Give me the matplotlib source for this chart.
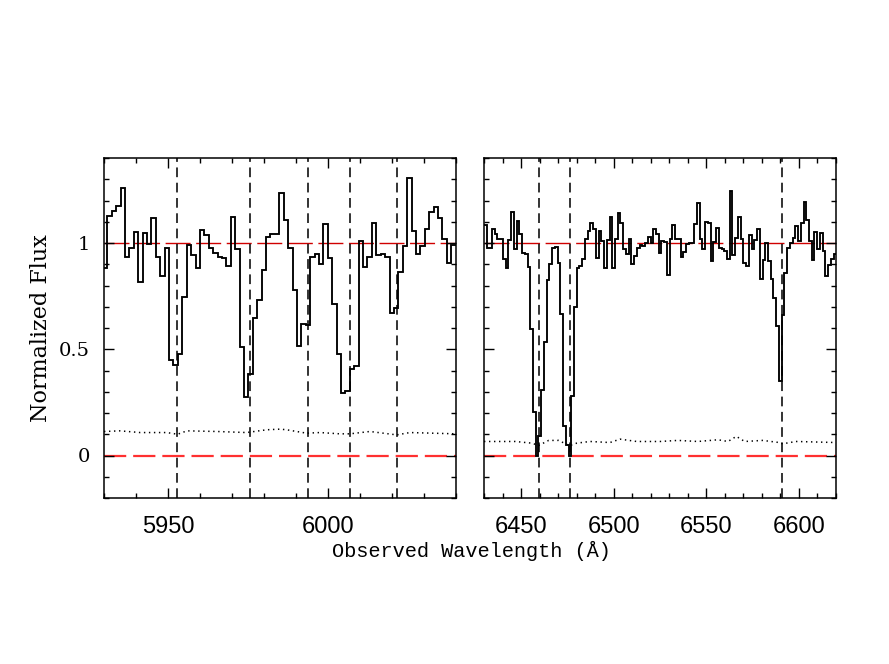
import matplotlib
matplotlib.use("Agg")
import matplotlib.pyplot as plt
from matplotlib import font_manager
from matplotlib.ticker import MultipleLocator
import numpy as np

plt.rcParams["lines.scale_dashes"] = False

# binned spectrum, left window (uniform wavelength bins)
wave_left_start = 5929.66
dwave_left = 1.378
flux_left = [
    0.884,
    1.127, 1.151, 1.175, 1.261, 0.934, 0.978, 1.053, 0.818, 1.049, 0.997,
    1.116, 0.934, 0.843, 0.978, 0.448, 0.428, 0.478, 0.745, 0.991, 0.943,
    0.884, 1.063, 1.036, 0.978, 0.954, 0.936, 0.931, 0.892, 1.124, 0.970,
    0.509, 0.277, 0.384, 0.648, 0.734, 0.874, 1.030, 1.041, 1.041,
    1.233, 1.108, 0.978, 0.781, 0.514, 0.619, 0.613, 0.936, 0.950, 0.903,
    1.088, 0.928, 0.712, 0.480, 0.294, 0.302, 0.409, 0.420, 1.009, 0.887,
    0.934, 1.094, 0.942, 0.947, 0.932, 0.671, 0.692, 0.865, 0.986, 1.305,
    1.057, 0.948, 0.986, 1.064, 1.148, 1.170, 1.119, 1.017, 0.907,
    0.990,
]

# binned spectrum, right window
wave_right_start = 6429.9
dwave_right = 1.475
flux_right = [
    1.083, 0.975, 0.975, 1.064, 1.044, 1.017, 1.017, 0.923, 0.882, 1.013,
    1.146, 0.970, 1.104, 1.041, 0.954, 0.946, 0.887, 0.593, 0.203, 0.000,
    0.090, 0.310, 0.533, 0.828, 0.899, 0.978, 0.983, 0.907, 0.664, 0.137,
    0.050, 0.000, 0.278, 0.698, 0.884, 0.892, 0.923, 1.020, 1.057, 1.096,
    1.064, 0.928, 1.057, 1.009, 0.884, 1.014, 1.120, 0.884, 1.017, 1.143,
    1.096, 0.970, 0.947, 1.017, 0.902, 0.939, 0.978, 0.989, 0.986, 1.001,
    1.028, 1.001, 1.068, 1.041, 0.954,
    1.010, 1.005, 0.850, 1.020, 1.083, 1.020, 1.017, 0.936, 0.958, 0.994,
    0.998, 1.000, 1.088, 1.186, 1.017, 0.973, 1.099, 1.096, 0.915, 1.005,
    1.072, 0.975, 0.970, 0.962, 0.926, 1.245, 0.942, 1.025, 1.120, 1.020,
    0.904,
    0.892, 1.039, 0.970, 1.014, 1.064, 0.832, 0.920, 0.998, 0.915, 0.829,
    0.742, 0.608, 0.349, 0.660, 0.860, 0.976, 0.998, 1.025, 1.080, 1.010,
    1.096, 1.193, 1.108, 1.010, 0.920, 1.052, 0.970, 1.049, 0.962, 0.847,
    0.896, 0.926, 0.946,
]

# error spectrum (dotted)
err_wave_left = [5930, 5935, 5941.3, 5949.6, 5953, 5955.9, 5965.3, 5974.6,
                 5980.8, 5985, 5987.1, 5993.3, 5997.5, 6003.7, 6006.9,
                 6013.1, 6021.5, 6025.6, 6039.9]
err_left = [0.113, 0.116, 0.108, 0.108, 0.100, 0.116, 0.113, 0.108, 0.121,
            0.124, 0.121, 0.105, 0.108, 0.102, 0.102, 0.113, 0.097, 0.108,
            0.102]
err_wave_right = [6430, 6446.9, 6455.9, 6459.5, 6464.9, 6470.3, 6476.1,
                  6480.0, 6487.2, 6498, 6503.4, 6512.4, 6525, 6534.7, 6545.5,
                  6556.3, 6561.7, 6566.2, 6570.7, 6580.4, 6589.4, 6591.2,
                  6598.4, 6620]
err_right = [0.066, 0.066, 0.058, 0.047, 0.071, 0.071, 0.046, 0.058, 0.066,
             0.061, 0.077, 0.066, 0.066, 0.071, 0.066, 0.074, 0.066, 0.090,
             0.066, 0.071, 0.061, 0.055, 0.066, 0.061]

# absorption line positions
lines_left = [5952.9, 5975.6, 5993.7, 6006.9, 6021.5]
lines_right = [6459.8, 6476.4, 6591.0]

xlim_left = (5930, 6040)
xlim_right = (6430, 6620)

names = {f.name for f in font_manager.fontManager.ttflist}
tick_font = "Liberation Sans Narrow" if "Liberation Sans Narrow" in names else "Liberation Sans"

fig = plt.figure(figsize=(8.89, 6.64), dpi=100)
ax1 = fig.add_axes([104 / 889, 166 / 664, 352 / 889, 340 / 664])
ax2 = fig.add_axes([484 / 889, 166 / 664, 352 / 889, 340 / 664])

panels = [
    (ax1, wave_left_start, dwave_left, flux_left, err_wave_left, err_left, lines_left, xlim_left),
    (ax2, wave_right_start, dwave_right, flux_right, err_wave_right, err_right, lines_right, xlim_right),
]

for ax, w0, dw, flux, ew, err, lines, xlim in panels:
    edges = w0 + dw * np.arange(len(flux) + 1)
    ax.axhline(0, color="#ff3030", lw=1.6, linestyle=(0, (16, 5)), zorder=1)
    ax.axhline(1, color="#d00000", lw=1.0, linestyle=(0, (18, 4)), zorder=1)
    for w in lines:
        ax.axvline(w, color="#111111", lw=1.2, linestyle=(0, (7, 4)), zorder=2)
    ax.stairs(flux, edges, baseline=None, color="black", lw=1.35, zorder=3)
    ax.plot(ew, err, color="black", lw=1.1, linestyle=(0, (1, 2.6)), zorder=3)

    ax.set_xlim(*xlim)
    ax.set_ylim(-0.2, 1.4)
    ax.xaxis.set_major_locator(MultipleLocator(50))
    ax.xaxis.set_minor_locator(MultipleLocator(10))
    ax.yaxis.set_major_locator(MultipleLocator(0.5))
    ax.yaxis.set_minor_locator(MultipleLocator(0.1))
    ax.tick_params(which="both", direction="in", top=True, right=True, width=1.0)
    ax.tick_params(which="major", length=7)
    ax.tick_params(which="minor", length=3.3)
    ax.tick_params(axis="x", pad=13, labelsize=17)
    for sp in ax.spines.values():
        sp.set_linewidth(1.1)
    for lab in ax.get_xticklabels():
        lab.set_family(tick_font)

ax1.set_yticks([0, 0.5, 1])
ax1.set_yticklabels(["0", "0.5", "1"], family="DejaVu Serif", fontsize=14)
ax1.tick_params(axis="y", pad=10)
ax2.tick_params(axis="y", labelleft=False)

fig.text(0.046, (166 + 170) / 664, "Normalized Flux", rotation=90,
         ha="center", va="center", family="DejaVu Serif", fontsize=16)
fig.text(471 / 889, 1 - 551 / 664, "Observed Wavelength (Å)",
         ha="center", va="center", family="Liberation Mono", fontsize=14.6)

fig.savefig("out.png", dpi=100)
